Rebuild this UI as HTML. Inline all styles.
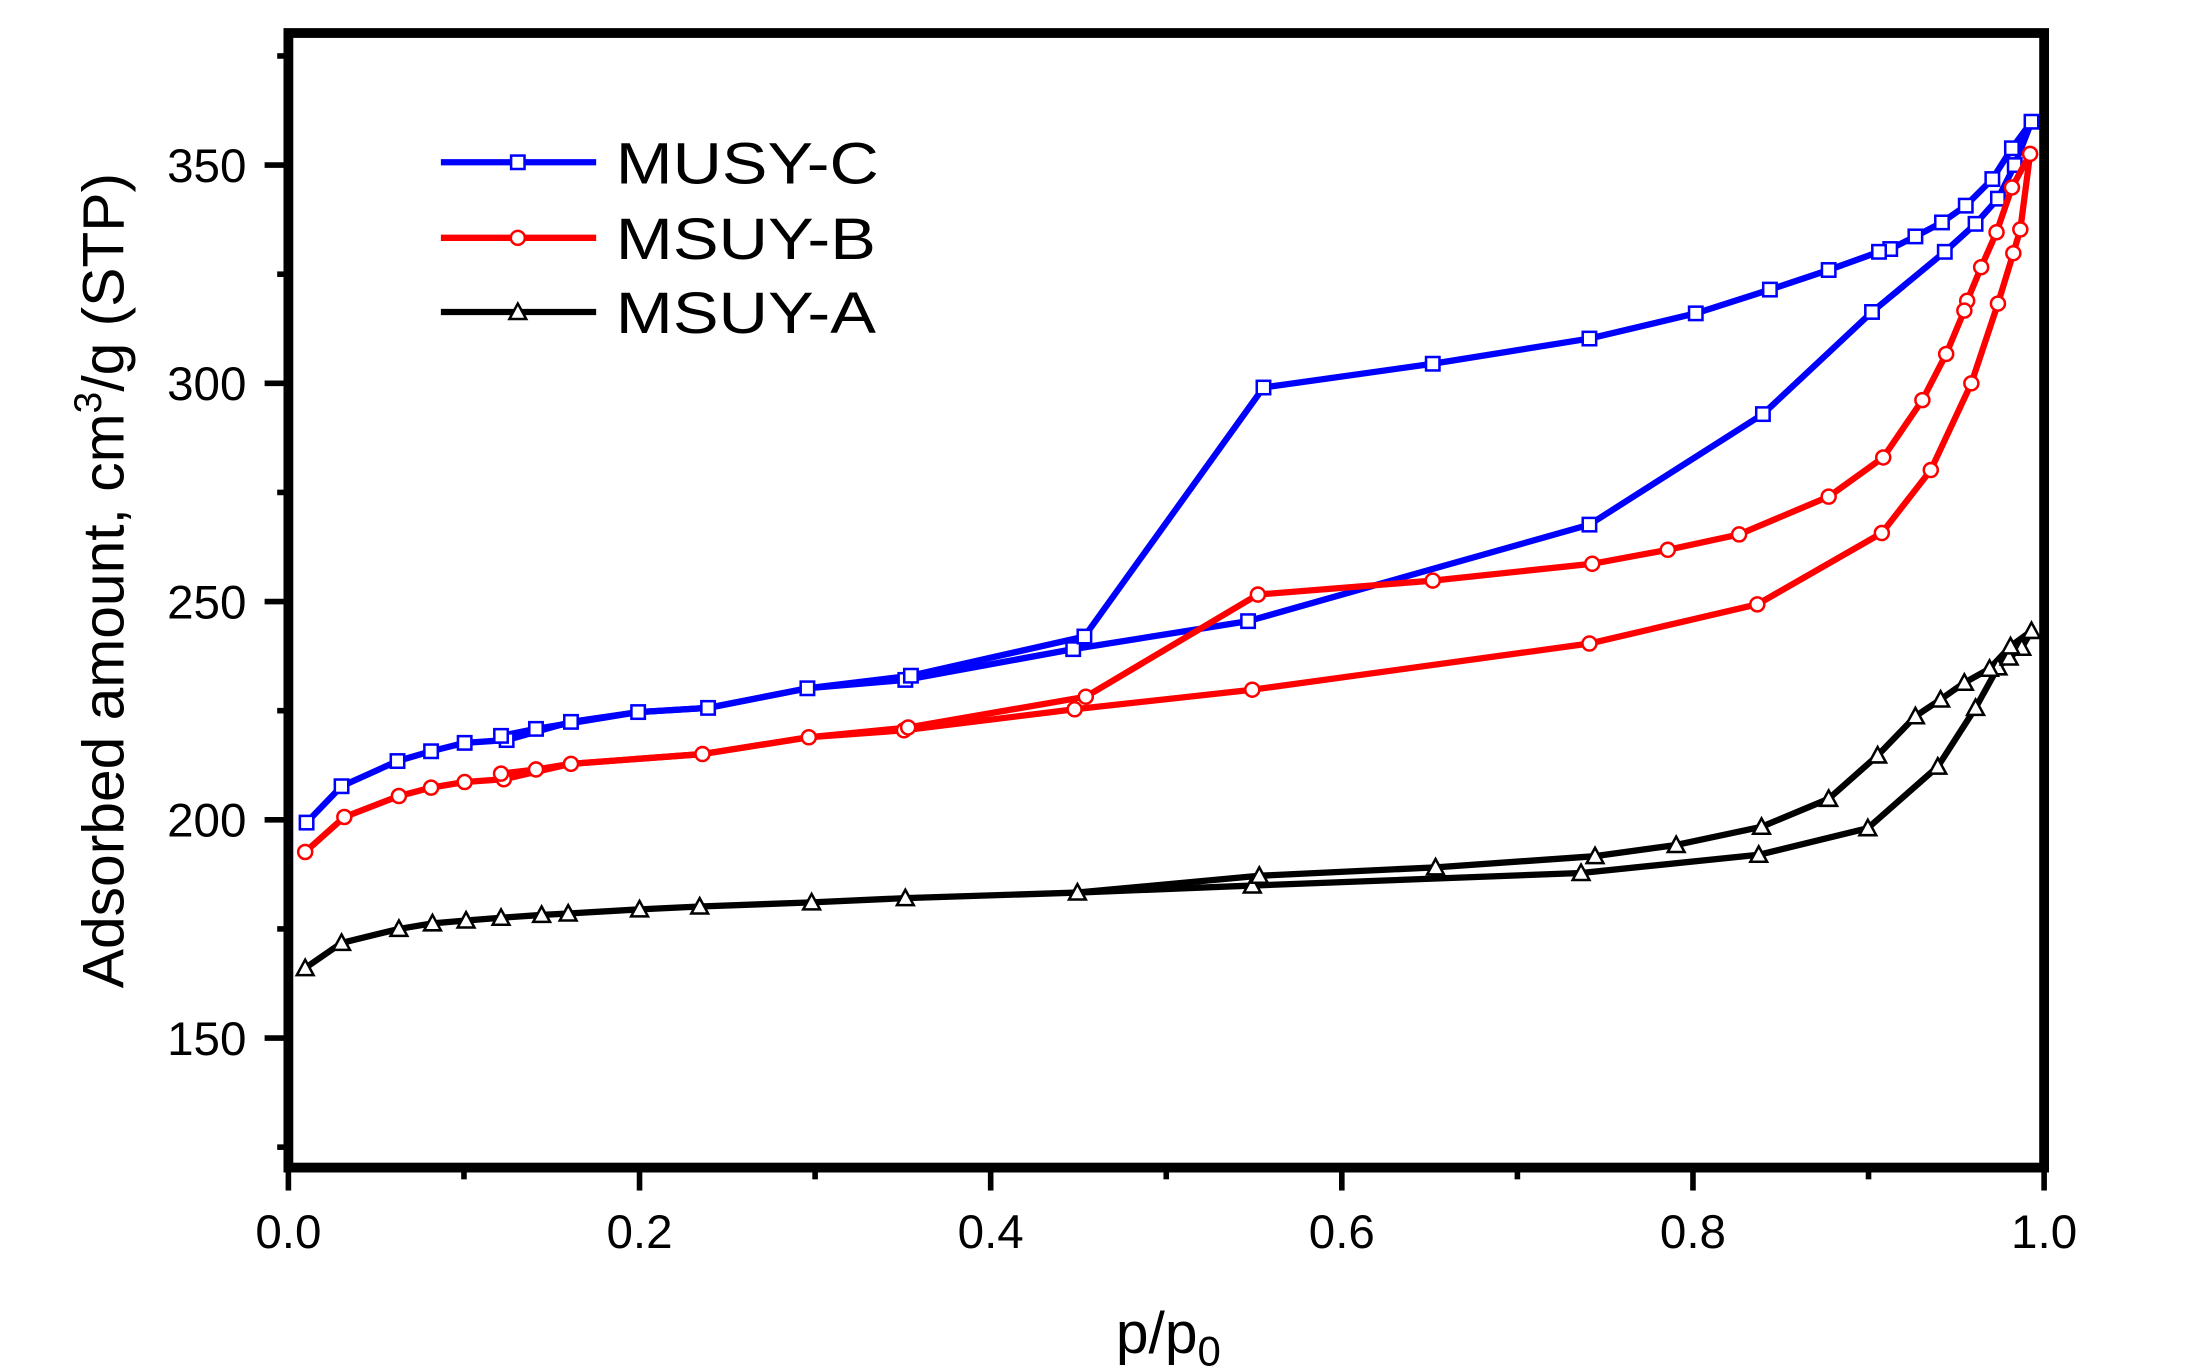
<!DOCTYPE html>
<html><head><meta charset="utf-8"><style>html,body{margin:0;padding:0;background:#fff}svg{display:block}</style></head>
<body>
<svg width="2194" height="1371" viewBox="0 0 1568 980" xmlns="http://www.w3.org/2000/svg" font-family="Liberation Sans, Arial, sans-serif">
<defs>
<g id="sq"><rect x="-4.8" y="-4.8" width="9.6" height="9.6" fill="#fff" stroke="#0000ff" stroke-width="1.8"/></g>
<g id="ci"><circle r="5" fill="#fff" stroke="#ff0000" stroke-width="1.8"/></g>
<g id="tr"><polygon points="0,-6 6,5 -6,5" fill="#fff" stroke="#000" stroke-width="1.8"/></g>
</defs>
<rect width="1568" height="980" fill="#fff"/>
<g stroke="#000" stroke-width="4">
<line x1="206" y1="834" x2="206" y2="851"/><line x1="331.5" y1="834" x2="331.5" y2="843"/>
<line x1="457" y1="834" x2="457" y2="851"/><line x1="582.5" y1="834" x2="582.5" y2="843"/>
<line x1="708" y1="834" x2="708" y2="851"/><line x1="833.5" y1="834" x2="833.5" y2="843"/>
<line x1="959" y1="834" x2="959" y2="851"/><line x1="1084.5" y1="834" x2="1084.5" y2="843"/>
<line x1="1210" y1="834" x2="1210" y2="851"/><line x1="1335.5" y1="834" x2="1335.5" y2="843"/>
<line x1="1461" y1="834" x2="1461" y2="851"/>
<line x1="189" y1="118" x2="206" y2="118"/><line x1="198" y1="40" x2="206" y2="40"/>
<line x1="198" y1="196" x2="206" y2="196"/><line x1="189" y1="274" x2="206" y2="274"/>
<line x1="198" y1="352" x2="206" y2="352"/><line x1="189" y1="430" x2="206" y2="430"/>
<line x1="198" y1="508" x2="206" y2="508"/><line x1="189" y1="586" x2="206" y2="586"/>
<line x1="198" y1="664" x2="206" y2="664"/><line x1="189" y1="742" x2="206" y2="742"/>
<line x1="198" y1="820" x2="206" y2="820"/>
</g>
<rect x="206" y="23.6" width="1255" height="811" fill="none" stroke="#000" stroke-width="7"/>
<g font-size="34" fill="#000" text-anchor="middle">
<text x="206" y="892">0.0</text><text x="457" y="892">0.2</text><text x="708" y="892">0.4</text>
<text x="959" y="892">0.6</text><text x="1210" y="892">0.8</text><text x="1461" y="892">1.0</text>
</g>
<g font-size="34" fill="#000" text-anchor="end">
<text x="176" y="130">350</text><text x="176" y="286">300</text><text x="176" y="442">250</text>
<text x="176" y="598">200</text><text x="176" y="754">150</text>
</g>
<text x="835" y="967" font-size="42" text-anchor="middle">p/p<tspan font-size="30" dy="9">0</tspan></text>
<text transform="translate(88,415) rotate(-90)" font-size="42" text-anchor="middle">Adsorbed amount, cm<tspan font-size="28" dy="-16">3</tspan><tspan dy="16">/g (STP)</tspan></text>
<g fill="none" stroke="#0000ff" stroke-width="4.5" stroke-linejoin="round">
<polyline points="219,588 244,562 284,544 308,537 332,531 362,529 408,516 456,509 506,506 577,492 647,486 767,464 892,444 1136,375 1260,296 1338,223 1390,180 1412,160 1428,142 1440,118 1452,87"/>
<polyline points="1452,87 1438,106 1424,128 1405,147 1388,159 1369,169 1351,178 1343,180 1307,193 1265,207 1212,224 1136,242 1024,260 903,277 775,455 651,483 577,492 506,506 456,509 383,521 358,526"/>
</g>
<g>
<use href="#sq" x="219" y="588"/><use href="#sq" x="244" y="562"/><use href="#sq" x="284" y="544"/><use href="#sq" x="308" y="537"/><use href="#sq" x="332" y="531"/><use href="#sq" x="362" y="529"/><use href="#sq" x="408" y="516"/><use href="#sq" x="456" y="509"/><use href="#sq" x="506" y="506"/><use href="#sq" x="577" y="492"/><use href="#sq" x="647" y="486"/><use href="#sq" x="767" y="464"/><use href="#sq" x="892" y="444"/><use href="#sq" x="1136" y="375"/><use href="#sq" x="1260" y="296"/><use href="#sq" x="1338" y="223"/><use href="#sq" x="1390" y="180"/><use href="#sq" x="1412" y="160"/><use href="#sq" x="1428" y="142"/><use href="#sq" x="1440" y="118"/><use href="#sq" x="1452" y="87"/>
<use href="#sq" x="1438" y="106"/><use href="#sq" x="1424" y="128"/><use href="#sq" x="1405" y="147"/><use href="#sq" x="1388" y="159"/><use href="#sq" x="1369" y="169"/><use href="#sq" x="1351" y="178"/><use href="#sq" x="1343" y="180"/><use href="#sq" x="1307" y="193"/><use href="#sq" x="1265" y="207"/><use href="#sq" x="1212" y="224"/><use href="#sq" x="1136" y="242"/><use href="#sq" x="1024" y="260"/><use href="#sq" x="903" y="277"/><use href="#sq" x="775" y="455"/><use href="#sq" x="651" y="483"/><use href="#sq" x="383" y="521"/><use href="#sq" x="358" y="526"/>
</g>
<g fill="none" stroke="#ff0000" stroke-width="4.5" stroke-linejoin="round">
<polyline points="218,609 246,584 285,569 308,563 332,559 360,557 408,546 502,539 578,527 646,522 768,507 895,493 1136,460 1256,432 1345,381 1380,336 1409,274 1428,217 1439,181 1444,164 1451,110"/>
<polyline points="1451,110 1438,134 1427,166 1416,191 1406,215 1404,222 1391,253 1374,286 1346,327 1307,355 1243,382 1192,393 1138,403 1024,415 899,425 776,498 649,520 578,527 502,539 408,546 383,550 358,553"/>
</g>
<g>
<use href="#ci" x="218" y="609"/><use href="#ci" x="246" y="584"/><use href="#ci" x="285" y="569"/><use href="#ci" x="308" y="563"/><use href="#ci" x="332" y="559"/><use href="#ci" x="360" y="557"/><use href="#ci" x="408" y="546"/><use href="#ci" x="502" y="539"/><use href="#ci" x="578" y="527"/><use href="#ci" x="646" y="522"/><use href="#ci" x="768" y="507"/><use href="#ci" x="895" y="493"/><use href="#ci" x="1136" y="460"/><use href="#ci" x="1256" y="432"/><use href="#ci" x="1345" y="381"/><use href="#ci" x="1380" y="336"/><use href="#ci" x="1409" y="274"/><use href="#ci" x="1428" y="217"/><use href="#ci" x="1439" y="181"/><use href="#ci" x="1444" y="164"/><use href="#ci" x="1451" y="110"/>
<use href="#ci" x="1438" y="134"/><use href="#ci" x="1427" y="166"/><use href="#ci" x="1416" y="191"/><use href="#ci" x="1406" y="215"/><use href="#ci" x="1404" y="222"/><use href="#ci" x="1391" y="253"/><use href="#ci" x="1374" y="286"/><use href="#ci" x="1346" y="327"/><use href="#ci" x="1307" y="355"/><use href="#ci" x="1243" y="382"/><use href="#ci" x="1192" y="393"/><use href="#ci" x="1138" y="403"/><use href="#ci" x="1024" y="415"/><use href="#ci" x="899" y="425"/><use href="#ci" x="776" y="498"/><use href="#ci" x="649" y="520"/><use href="#ci" x="383" y="550"/><use href="#ci" x="358" y="553"/>
</g>
<g fill="none" stroke="#000" stroke-width="4.5" stroke-linejoin="round">
<polyline points="218,692 244,674 285,664 309,660 333,658 358,656 387,654 406,653 457,650 500,648 580,645 647,642 770,638 895,633 1130,624 1257,611 1335,592 1385,548 1412,506 1428,477 1436,470 1445,463 1452,451"/>
<polyline points="1452,451 1437,462 1422,478 1404,488 1387,500 1369,512 1342,540 1307,571 1259,591 1198,604 1140,612 1026,620 900,626 770,638"/>
</g>
<g>
<use href="#tr" x="218" y="692"/><use href="#tr" x="244" y="674"/><use href="#tr" x="285" y="664"/><use href="#tr" x="309" y="660"/><use href="#tr" x="333" y="658"/><use href="#tr" x="358" y="656"/><use href="#tr" x="387" y="654"/><use href="#tr" x="406" y="653"/><use href="#tr" x="457" y="650"/><use href="#tr" x="500" y="648"/><use href="#tr" x="580" y="645"/><use href="#tr" x="647" y="642"/><use href="#tr" x="770" y="638"/><use href="#tr" x="895" y="633"/><use href="#tr" x="1130" y="624"/><use href="#tr" x="1257" y="611"/><use href="#tr" x="1335" y="592"/><use href="#tr" x="1385" y="548"/><use href="#tr" x="1412" y="506"/><use href="#tr" x="1428" y="477"/><use href="#tr" x="1436" y="470"/><use href="#tr" x="1445" y="463"/><use href="#tr" x="1452" y="451"/>
<use href="#tr" x="1437" y="462"/><use href="#tr" x="1422" y="478"/><use href="#tr" x="1404" y="488"/><use href="#tr" x="1387" y="500"/><use href="#tr" x="1369" y="512"/><use href="#tr" x="1342" y="540"/><use href="#tr" x="1307" y="571"/><use href="#tr" x="1259" y="591"/><use href="#tr" x="1198" y="604"/><use href="#tr" x="1140" y="612"/><use href="#tr" x="1026" y="620"/><use href="#tr" x="900" y="626"/>
</g>
<g stroke-width="4.5">
<line x1="315" y1="116" x2="426" y2="116" stroke="#0000ff"/>
<line x1="315" y1="170" x2="426" y2="170" stroke="#ff0000"/>
<line x1="315" y1="223" x2="426" y2="223" stroke="#000"/>
</g>
<use href="#sq" x="370" y="116"/><use href="#ci" x="370" y="170"/><use href="#tr" x="370" y="223"/>
<g font-size="42" fill="#000">
<text x="440" y="131" textLength="188" lengthAdjust="spacingAndGlyphs">MUSY-C</text>
<text x="440" y="185" textLength="186" lengthAdjust="spacingAndGlyphs">MSUY-B</text>
<text x="440" y="238" textLength="186" lengthAdjust="spacingAndGlyphs">MSUY-A</text>
</g>
</svg>
</body></html>
